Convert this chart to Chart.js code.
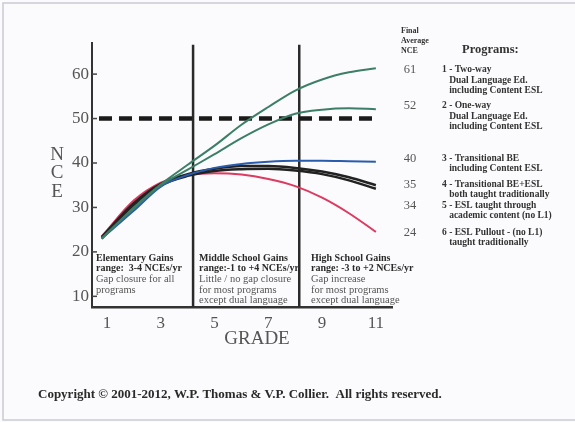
<!DOCTYPE html>
<html lang="en">
<head>
    <meta charset="UTF-8">
    <title>NCE by grade</title>
    <script src="https://cdn.jsdelivr.net/npm/chart.js@4.4.2/dist/chart.umd.min.js"></script>
    <style>
        body { margin: 0; background: #fbfbfd; }
        #wrap { width: 575px; height: 422px; }
    </style>
</head>
<body>
<div id="wrap"><canvas id="ncechart" width="575" height="422"></canvas></div>
<script>
    const grades = [0.8, 2, 3, 4, 5, 6, 7, 8, 9, 10, 11];
    const twoWay     = [23.0, 30.0, 35.2, 39.6, 43.9, 48.6, 52.6, 56.3, 58.8, 60.4, 61.3];
    const oneWay     = [23.0, 29.8, 35.0, 38.5, 42.0, 45.6, 48.7, 51.1, 52.0, 52.3, 52.1];
    const transBE    = [23.0, 29.3, 34.7, 37.3, 38.9, 39.8, 40.3, 40.5, 40.5, 40.4, 40.3];
    const transBEESL = [23.3, 31.0, 35.3, 37.5, 38.7, 39.3, 39.3, 38.9, 38.1, 36.8, 35.0];
    const eslContent = [23.0, 30.6, 35.0, 37.1, 38.2, 38.6, 38.7, 38.3, 37.5, 36.1, 34.2];
    const eslPullout = [23.5, 31.6, 35.6, 37.3, 37.7, 37.4, 36.4, 34.8, 32.2, 28.7, 24.5];

    const finalNce = ['61', '52', '40', '35', '34', '24'];
    const programs = [
        ['1 - Two-way', '   Dual Language Ed.', '   including Content ESL'],
        ['2 - One-way', '   Dual Language Ed.', '   including Content ESL'],
        ['3 - Transitional BE', '   including Content ESL'],
        ['4 - Transitional BE+ESL', '   both taught traditionally'],
        ['5 - ESL taught through', '   academic content (no L1)'],
        ['6 - ESL Pullout - (no L1)', '   taught traditionally']
    ];
    const yTicks = [10, 20, 30, 40, 50, 60];
    const xTicks = [1, 3, 5, 7, 9, 11];
    const dividers = [4.2, 8.15];
    const norm = 50;

    const boxes = [
        { bold: ['Elementary Gains', 'range:  3-4 NCEs/yr'], plain: ['Gap closure for all', 'programs'] },
        { bold: ['Middle School Gains', 'range:-1 to +4 NCEs/yr'], plain: ['Little / no gap closure', 'for most programs', 'except dual language'] },
        { bold: ['High School Gains', 'range: -3 to +2 NCEs/yr'], plain: ['Gap increase', 'for most programs', 'except dual language'] }
    ];

    const yMin = 7.6, yMax = 67;
    const serif = '"Liberation Serif", "DejaVu Serif", serif';
    const pts = arr => grades.map((g, i) => ({ x: g, y: arr[i] }));

    const curve = (data, color, w) => ({
        data: pts(data), borderColor: color, borderWidth: w,
        pointRadius: 0, cubicInterpolationMode: 'monotone', fill: false
    });

    const datasets = [
        curve(twoWay, '#3d7f66', 2),
        curve(oneWay, '#3d7f66', 2),
        curve(transBE, '#2a5cae', 2),
        curve(transBEESL, '#222222', 2.5),
        curve(eslContent, '#222222', 2.5),
        curve(eslPullout, '#dc3a60', 2),
        {
            data: [{ x: 0.7, y: norm }, { x: 11.05, y: norm }],
            borderColor: '#1a1a1a', borderWidth: 4.5, borderDash: [13, 7],
            pointRadius: 0, fill: false
        }
    ];
    dividers.forEach(d => datasets.push({
        data: [{ x: d, y: yMin }, { x: d, y: 66.6 }],
        borderColor: '#2a2a2a', borderWidth: 2.5, pointRadius: 0, fill: false
    }));

    const annot = {
        id: 'annot',
        beforeDraw(chart) {
            const c = chart.ctx;
            c.save();
            c.fillStyle = '#fbfbfd';
            c.fillRect(0, 0, chart.width, chart.height);
            c.strokeStyle = '#c9ccd1';
            c.lineWidth = 1.5;
            c.strokeRect(3, 3, 600, 417);
            c.restore();
        },
        afterDraw(chart) {
            const c = chart.ctx;
            const ys = chart.scales.y, xs = chart.scales.x;
            c.save();
            // inward tick marks on y axis
            c.strokeStyle = '#444';
            c.lineWidth = 1.5;
            yTicks.forEach(v => {
                const py = ys.getPixelForValue(v);
                c.beginPath();
                c.moveTo(xs.left, py);
                c.lineTo(xs.left + 5, py);
                c.stroke();
            });
            // axis titles
            c.fillStyle = '#555';
            c.font = '19px ' + serif;
            c.textAlign = 'center';
            c.textBaseline = 'middle';
            c.fillText('GRADE', 257, 339);
            ['N', 'C', 'E'].forEach((ch, i) => c.fillText(ch, 57, 155 + i * 18.5));

            // gains boxes
            const bx = [96, 199, 311];
            boxes.forEach((b, i) => {
                let y = 258;
                c.textAlign = 'left';
                c.fillStyle = '#2a2a2a';
                c.font = 'bold 10px ' + serif;
                b.bold.forEach(t => { c.fillText(t, bx[i], y); y += 10.5; });
                c.fillStyle = '#555';
                c.font = '10.5px ' + serif;
                y += 0.5;
                b.plain.forEach(t => { c.fillText(t, bx[i], y); y += 10.5; });
            });

            // right side legend
            c.textAlign = 'left';
            c.fillStyle = '#333';
            c.font = 'bold 8px ' + serif;
            ['Final', 'Average', 'NCE'].forEach((t, i) => c.fillText(t, 401, 31 + i * 10));
            c.font = 'bold 12.5px ' + serif;
            c.fillText('Programs:', 462, 50);
            const rowY = [70, 106, 159, 185, 206, 233];
            finalNce.forEach((v, i) => {
                c.fillStyle = '#555';
                c.font = '12.5px ' + serif;
                c.textAlign = 'center';
                c.fillText(v, 410, rowY[i]);
                c.textAlign = 'left';
                c.fillStyle = '#333';
                c.font = 'bold 9.5px ' + serif;
                const gap = programs[i].length > 2 ? 10.5 : 9.5;
                programs[i].forEach((t, j) => c.fillText(t, 442, rowY[i] + j * gap));
            });

            c.fillStyle = '#2a2a2a';
            c.font = 'bold 13px ' + serif;
            c.fillText('Copyright \u00a9 2001-2012, W.P. Thomas & V.P. Collier.  All rights reserved.', 38, 395);
            c.restore();
        }
    };

    new Chart(document.getElementById('ncechart'), {
        type: 'line',
        data: { datasets: datasets },
        plugins: [annot],
        options: {
            responsive: false,
            animation: false,
            layout: { padding: { left: 0, top: 43, right: 183, bottom: 0 } },
            plugins: { legend: { display: false }, tooltip: { enabled: false } },
            scales: {
                x: {
                    type: 'linear', min: 0.44, max: 11.6,
                    afterFit: s => { s.height = 115; },
                    afterBuildTicks: s => { s.ticks = xTicks.map(v => ({ value: v })); },
                    grid: { drawOnChartArea: false, drawTicks: false },
                    border: { display: true, color: '#333', width: 2.5 },
                    ticks: { padding: 6, color: '#555', font: { family: serif, size: 17 } }
                },
                y: {
                    type: 'linear', min: yMin, max: yMax,
                    afterFit: s => { s.width = 92; },
                    afterBuildTicks: s => { s.ticks = yTicks.map(v => ({ value: v })); },
                    grid: { drawOnChartArea: false, drawTicks: false },
                    border: { display: true, color: '#333', width: 2 },
                    ticks: { padding: 3, color: '#555', font: { family: serif, size: 17 } }
                }
            }
        }
    });
</script>
</body>
</html>
